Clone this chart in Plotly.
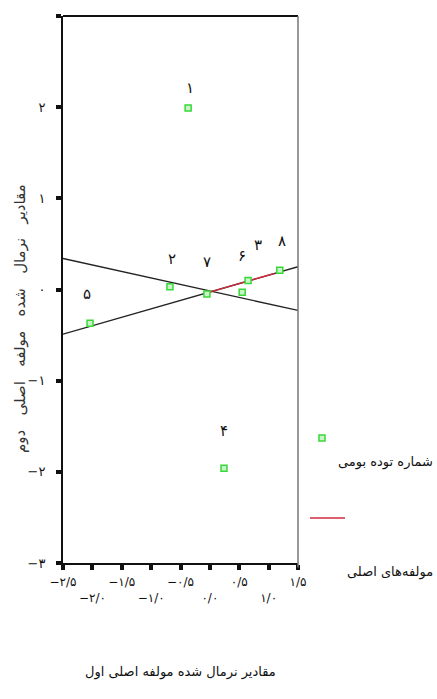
import plotly.graph_objects as go

# Normalised scores on the first and second principal components
accessions = ["۱", "۲", "۳", "۴", "۵", "۶", "۷", "۸"]
pc1_scores = [-0.37, -0.68, 0.65, 0.24, -2.04, 0.55, -0.05, 1.19]
pc2_scores = [1.99, 0.03, 0.10, -1.96, -0.37, -0.03, -0.05, 0.21]

# Principal-axis lines (value at left and right edge of the x range)
axis_line_x = [-2.5, 1.5]
axis_line_a = [0.34, -0.23]
axis_line_b = [-0.49, 0.25]
# Principal-component vector drawn in red
pc_vector_x = [-0.05, 1.10]
pc_vector_y = [-0.037, 0.176]

x_tick_vals = [-2.5, -2.0, -1.5, -1.0, -0.5, 0.0, 0.5, 1.0, 1.5]
x_tick_text = ["−۲/۵", "<br>−۲/۰", "−۱/۵", "<br>−۱/۰", "−۰/۵", "<br>۰/۰", "۰/۵", "<br>۱/۰", "۱/۵"]
y_tick_vals = [-3, -2, -1, 0, 1, 2, 3]
y_tick_text = ["−۳", "−۲", "−۱", "۰", "۱", "۲", ""]

x_title = "مقادیر نرمال شده مولفه اصلی اول"
y_title_words = ["مقادیر", "نرمال", "شده", "مولفه", "اصلی", "دوم"]
legend_points = "شماره توده بومی"
legend_vector = "مولفه‌های اصلی"

# pixel offsets of each point label (dx, dy)
label_offsets = {
    "۱": (2, 20), "۲": (2, 28), "۳": (10, 35), "۴": (0, 37),
    "۵": (-3, 29), "۶": (0, 36), "۷": (0, 32), "۸": (2, 29),
}

FONT = "DejaVu Sans"
GREEN = "#38d838"
RED = "#d02b3c"
INK = "#111111"

fig = go.Figure()
fig.add_trace(go.Scatter(x=axis_line_x, y=axis_line_a, mode="lines",
                         line=dict(color="#222222", width=1.3), showlegend=False))
fig.add_trace(go.Scatter(x=axis_line_x, y=axis_line_b, mode="lines",
                         line=dict(color="#222222", width=1.3), showlegend=False))
fig.add_trace(go.Scatter(x=pc_vector_x, y=pc_vector_y, mode="lines",
                         line=dict(color=RED, width=1.5), showlegend=False))
fig.add_trace(go.Scatter(x=pc1_scores, y=pc2_scores, mode="markers",
                         marker=dict(symbol="square", size=6, color="#c9f4c9",
                                     line=dict(color=GREEN, width=1.5)),
                         showlegend=False))

for name, xv, yv in zip(accessions, pc1_scores, pc2_scores):
    dx, dy = label_offsets[name]
    fig.add_annotation(x=xv, y=yv, text=name, showarrow=False,
                       xshift=dx, yshift=dy,
                       font=dict(family=FONT, size=15, color=INK))

# axis titles
fig.add_annotation(xref="paper", yref="paper", x=0.498, y=-0.199, text=x_title,
                   xanchor="center", yanchor="middle", showarrow=False,
                   font=dict(family=FONT, size=13, color=INK))
fig.add_annotation(xref="paper", yref="paper", x=-0.183, y=0.448,
                   text="\u00a0\u00a0\u00a0".join(y_title_words),
                   xanchor="center", yanchor="middle", textangle=-90, showarrow=False,
                   font=dict(family=FONT, size=15, color="#333333"))

# legend entries
fig.add_shape(type="rect", xref="paper", yref="paper", xsizemode="pixel", ysizemode="pixel",
              xanchor=1.102, yanchor=0.2285, x0=-3, x1=3, y0=-3, y1=3,
              line=dict(color=GREEN, width=1.5), fillcolor="#c9f4c9")
fig.add_annotation(xref="paper", yref="paper", x=1.583, y=0.1846, xanchor="right",
                   yanchor="middle", text=legend_points, showarrow=False,
                   font=dict(family=FONT, size=13, color=INK))
fig.add_shape(type="line", xref="paper", yref="paper", x0=1.051, x1=1.2, y0=0.0823, y1=0.0823,
              line=dict(color=RED, width=1.5))
fig.add_annotation(xref="paper", yref="paper", x=1.583, y=-0.0165, xanchor="right",
                   yanchor="middle", text=legend_vector, showarrow=False,
                   font=dict(family=FONT, size=13, color=INK))

# frame: black top, grey right
fig.add_shape(type="line", xref="paper", yref="paper", x0=0, x1=1, y0=1, y1=1,
              line=dict(color=INK, width=2))
fig.add_shape(type="line", xref="paper", yref="paper", x0=1, x1=1, y0=-0.008, y1=1,
              line=dict(color="#777777", width=1.5))

fig.update_xaxes(range=[-2.5, 1.5], tickvals=x_tick_vals, ticktext=x_tick_text,
                 tickangle=0, showgrid=False, zeroline=False, showline=True,
                 linecolor=INK, linewidth=2, ticks="outside", ticklen=5, tickwidth=4,
                 tickcolor=INK, ticklabelstandoff=2,
                 tickfont=dict(family=FONT, size=12, color=INK))
fig.update_yaxes(range=[-3, 3], tickvals=y_tick_vals, ticktext=y_tick_text,
                 showgrid=False, zeroline=False, showline=True, linecolor=INK,
                 linewidth=2, ticks="outside", ticklen=5, tickwidth=4, tickcolor=INK,
                 ticklabelstandoff=8,
                 tickfont=dict(family=FONT, size=13, color=INK))

fig.update_layout(width=437, height=699, margin=dict(l=63, r=139, t=16, b=136),
                  plot_bgcolor="white", paper_bgcolor="white", showlegend=False)

fig.write_html("out.html")
